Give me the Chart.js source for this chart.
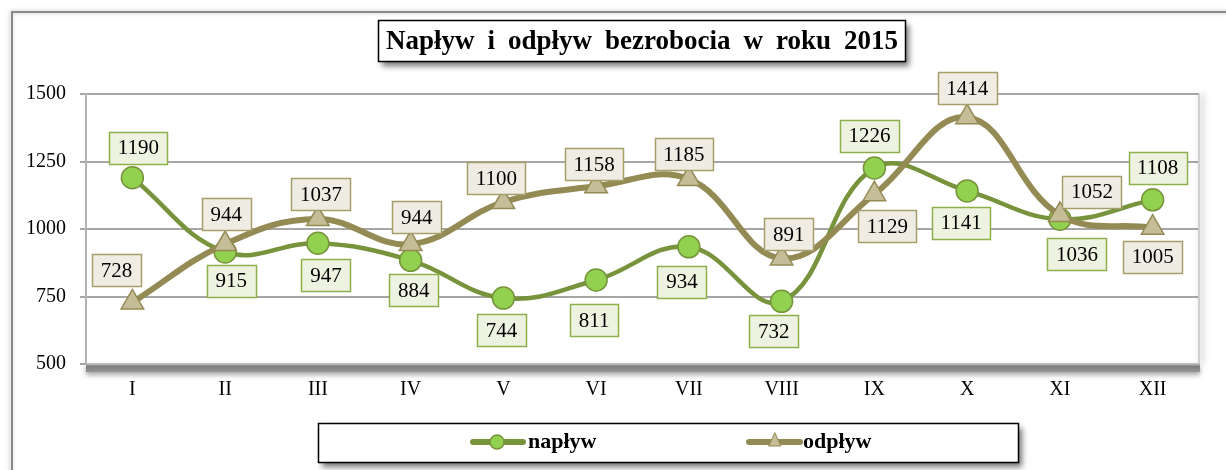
<!DOCTYPE html>
<html><head><meta charset="utf-8">
<script src="https://cdn.jsdelivr.net/npm/chart.js@4/dist/chart.umd.min.js"></script>
<style>html,body{margin:0;padding:0;background:#fff}#wrap{width:1226px;height:470px;position:relative}canvas{display:block}</style>
</head><body><div id="wrap"><canvas id="c" width="1226" height="470"></canvas></div>
<script>
// ---- data ----
const months = ['I','II','III','IV','V','VI','VII','VIII','IX','X','XI','XII'];
const naplyw = [1190, 915, 947, 884, 744, 811, 934, 732, 1226, 1141, 1036, 1108];
const odplyw = [728, 944, 1037, 944, 1100, 1158, 1185, 891, 1129, 1414, 1052, 1005];
const yTicks = [500, 750, 1000, 1250, 1500];
const titleText = 'Napływ i odpływ bezrobocia w roku 2015';
const seriesNames = ['napływ', 'odpływ'];

// ---- layout of data labels (pixel offsets from the point) ----
const layout = {
  naplywLabelOffset: [[6,-30],[6,29],[8,32],[3,30],[-2,32],[-2,40],[-7,35],[-8,30],[-5,-32],[-6,32],[17,35],[5,-32]],
  odplywLabelOffset: [[-16,-32],[1,-30],[3,-25],[6,-27],[-7,-24],[-2,-22],[-5,-25],[7,-24],[13,32],[0,-29],[32,-23],[0,29]]
};

const GREEN_LINE = '#77933C', GREEN_FILL = '#92D050', GREEN_LBL = '#EEF3E1', GREEN_LBL_B = '#8DB04B';
const TAN_LINE = '#948A54', TAN_FILL = '#C4BD97', TAN_LBL = '#EFEDE3', TAN_LBL_B = '#A59E6A';
const SERIF = '"Liberation Serif", "Times New Roman", serif';

function shadowBox(ctx, x, y, w, h) {
  ctx.save();
  ctx.shadowColor = 'rgba(0,0,0,0.55)';
  ctx.shadowBlur = 6; ctx.shadowOffsetX = 3; ctx.shadowOffsetY = 4;
  ctx.fillStyle = '#fff';
  ctx.fillRect(x, y, w, h);
  ctx.restore();
  ctx.save();
  ctx.strokeStyle = '#000'; ctx.lineWidth = 1.5;
  ctx.strokeRect(x, y, w, h);
  ctx.restore();
}

const decor = {
  id: 'decor',
  beforeDraw(chart) {
    const ctx = chart.ctx;
    ctx.save();
    ctx.fillStyle = '#fff';
    ctx.fillRect(0, 0, chart.width, chart.height);
    ctx.shadowColor = 'rgba(0,0,0,0.25)'; ctx.shadowBlur = 4; ctx.shadowOffsetX = -1;
    ctx.strokeStyle = '#8a8a8a'; ctx.lineWidth = 2;
    ctx.beginPath(); ctx.moveTo(12, 480); ctx.lineTo(12, 12); ctx.lineTo(1240, 12); ctx.stroke();
    ctx.restore();
  },
  beforeDatasetsDraw(chart) {
    const ctx = chart.ctx, a = chart.chartArea;
    ctx.save();
    ctx.shadowColor = 'rgba(0,0,0,0.35)'; ctx.shadowBlur = 6; ctx.shadowOffsetX = 3;
    ctx.fillStyle = '#cfcfcf';
    ctx.fillRect(a.right - 1, a.top, 2, a.bottom - a.top);
    ctx.restore();
    ctx.save();
    ctx.shadowColor = 'rgba(0,0,0,0.35)'; ctx.shadowBlur = 5; ctx.shadowOffsetY = 3;
    const g = ctx.createLinearGradient(0, a.bottom, 0, a.bottom + 9);
    g.addColorStop(0, '#c0c0c0'); g.addColorStop(0.25, '#7d7d7d'); g.addColorStop(1, '#9a9a9a');
    ctx.fillStyle = g;
    ctx.fillRect(a.left, a.bottom - 1, a.right - a.left + 1, 9);
    ctx.restore();
  },
  afterDatasetsDraw(chart) {
    const ctx = chart.ctx;
    const specs = [
      {idx: 0, vals: naplyw, off: layout.naplywLabelOffset, fill: GREEN_LBL, border: GREEN_LBL_B},
      {idx: 1, vals: odplyw, off: layout.odplywLabelOffset, fill: TAN_LBL, border: TAN_LBL_B}
    ];
    ctx.save();
    ctx.font = '21px ' + SERIF;
    ctx.textAlign = 'center'; ctx.textBaseline = 'middle';
    specs.forEach(s => {
      const meta = chart.getDatasetMeta(s.idx);
      meta.data.forEach((pt, i) => {
        const txt = String(s.vals[i]);
        const tw = ctx.measureText(txt).width;
        const w = Math.round(tw + 17), h = 32;
        const cx = pt.x + s.off[i][0], cy = pt.y + s.off[i][1];
        const x = Math.round(cx - w / 2) + 0.5, y = Math.round(cy - h / 2) + 0.5;
        ctx.fillStyle = s.fill; ctx.fillRect(x, y, w, h);
        ctx.strokeStyle = s.border; ctx.lineWidth = 1.5; ctx.strokeRect(x, y, w, h);
        ctx.fillStyle = '#000';
        ctx.fillText(txt, cx, cy + 1);
      });
    });
    ctx.restore();
  },
  afterDraw(chart) {
    const ctx = chart.ctx;
    // title
    shadowBox(ctx, 378.5, 20.5, 527, 41);
    ctx.save();
    ctx.fillStyle = '#000'; ctx.textBaseline = 'middle'; ctx.textAlign = 'left';
    const words = titleText.split(' ');
    const left = 386, right = 898, gapTarget = 13;
    ctx.font = 'bold 24px ' + SERIF;
    let sum = words.reduce((p, w) => p + ctx.measureText(w).width, 0);
    const size = Math.min(30, 24 * (right - left - gapTarget * (words.length - 1)) / sum);
    ctx.font = 'bold ' + size.toFixed(1) + 'px ' + SERIF;
    const widths = words.map(w => ctx.measureText(w).width);
    const gap = (right - left - widths.reduce((p, c) => p + c, 0)) / (words.length - 1);
    let x = left;
    words.forEach((w, i) => { ctx.fillText(w, x, 42); x += widths[i] + gap; });
    ctx.restore();
    // legend
    shadowBox(ctx, 318.5, 423.5, 700, 39);
    ctx.save();
    const ly = 442;
    ctx.lineCap = 'round';
    ctx.strokeStyle = GREEN_LINE; ctx.lineWidth = 6;
    ctx.beginPath(); ctx.moveTo(473, ly); ctx.lineTo(523, ly); ctx.stroke();
    ctx.fillStyle = GREEN_FILL; ctx.strokeStyle = GREEN_LINE; ctx.lineWidth = 1.5;
    ctx.beginPath(); ctx.arc(497, ly, 7, 0, Math.PI * 2); ctx.fill(); ctx.stroke();
    ctx.strokeStyle = TAN_LINE; ctx.lineWidth = 6;
    ctx.beginPath(); ctx.moveTo(749, ly); ctx.lineTo(800, ly); ctx.stroke();
    ctx.fillStyle = TAN_FILL; ctx.strokeStyle = TAN_LINE; ctx.lineWidth = 1;
    ctx.beginPath(); ctx.moveTo(775, ly - 9); ctx.lineTo(781, ly + 4); ctx.lineTo(769, ly + 4); ctx.closePath(); ctx.fill(); ctx.stroke();
    ctx.fillStyle = '#000'; ctx.font = 'bold 22px ' + SERIF; ctx.textBaseline = 'middle';
    ctx.fillText(seriesNames[0], 528, ly);
    ctx.fillText(seriesNames[1], 803, ly);
    ctx.restore();
  }
};

new Chart(document.getElementById('c'), {
  type: 'line',
  data: {
    labels: months,
    datasets: [
      {label: seriesNames[0], data: naplyw, order: 1, borderColor: GREEN_LINE, borderWidth: 4.5,
       pointStyle: 'circle', pointRadius: 11, pointBackgroundColor: GREEN_FILL, pointBorderColor: GREEN_LINE,
       pointBorderWidth: 1.5, tension: 0.4, fill: false},
      {label: seriesNames[1], data: odplyw, order: 0, borderColor: TAN_LINE, borderWidth: 6,
       pointStyle: 'triangle', pointRadius: 13, pointBackgroundColor: TAN_FILL, pointBorderColor: TAN_LINE,
       pointBorderWidth: 1.5, tension: 0.4, fill: false}
    ]
  },
  options: {
    responsive: false, animation: false, devicePixelRatio: 1,
    layout: {padding: {left: 0, top: 94, right: 27, bottom: 66}},
    plugins: {legend: {display: false}, title: {display: false}, tooltip: {enabled: false}},
    scales: {
      x: {
        offset: true,
        grid: {display: false, drawTicks: false},
        border: {display: false},
        ticks: {color: '#000', font: {family: SERIF, size: 20}, padding: 14, maxRotation: 0, autoSkip: false},
        afterFit(s) { s.height = 40; }
      },
      y: {
        min: 500, max: 1500,
        afterBuildTicks(s) { s.ticks = yTicks.map(v => ({value: v})); },
        grid: {color: '#A6A6A6', lineWidth: 2, tickLength: 6},
        border: {color: '#B4B4B4', width: 2},
        ticks: {color: '#000', font: {family: SERIF, size: 20}, padding: 14, callback: v => String(v)},
        afterFit(s) { s.width = 86; }
      }
    }
  },
  plugins: [decor]
});
</script>
</body></html>
